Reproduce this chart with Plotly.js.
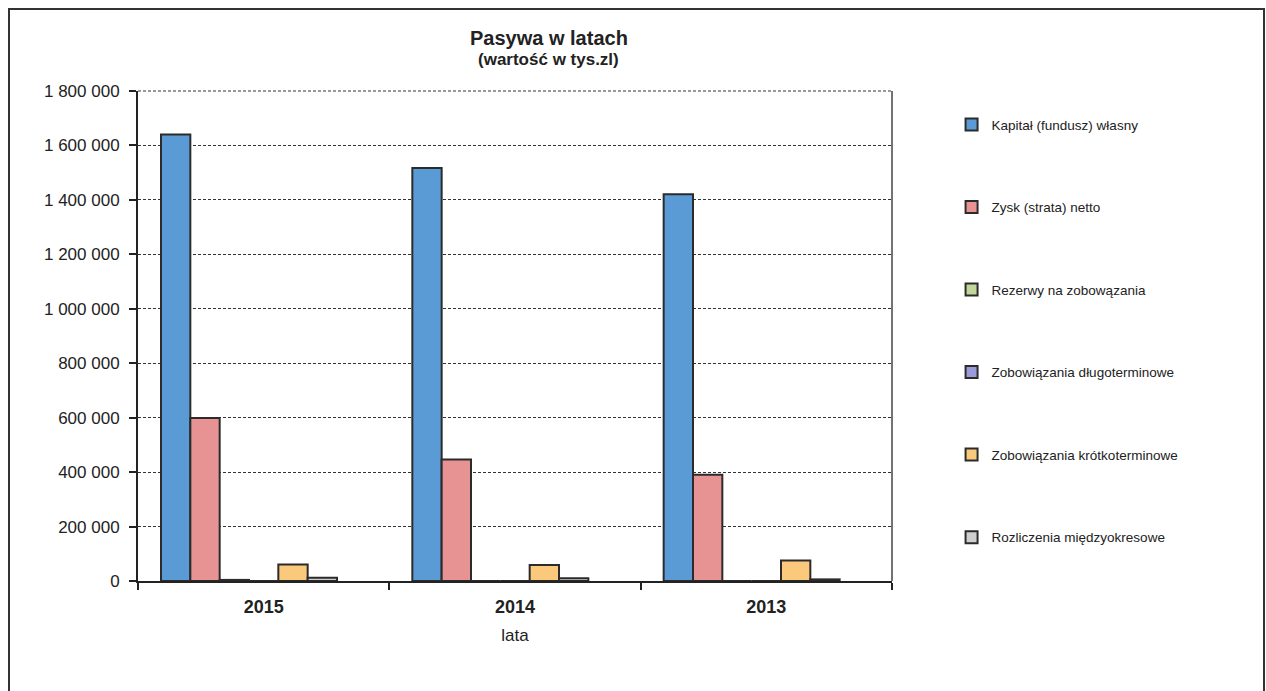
<!DOCTYPE html>
<html><head><meta charset="utf-8">
<script src="https://cdn.plot.ly/plotly-3.0.1.min.js"></script>
<style>html,body{margin:0;padding:0;background:#fff}#chart{width:1266px;height:691px}</style>
</head><body><div id="chart"></div>
<script>
const years = ['2015', '2014', '2013'];
const seriesNames = ['Kapitał (fundusz) własny', 'Zysk (strata) netto', 'Rezerwy na zobowązania', 'Zobowiązania długoterminowe', 'Zobowiązania krótkoterminowe', 'Rozliczenia międzyokresowe'];
const kapital = [1640000, 1517000, 1421000];
const zysk = [599000, 446000, 390000];
const rezerwy = [4000, 0, 0];
const zobDlugo = [0, 0, 0];
const zobKrotko = [61000, 59000, 75000];
const rozliczenia = [12000, 10000, 6000];
const pustaSeria = [0, 0, 0]; // empty 7th slot kept by the original chart
const seriesValues = [kapital, zysk, rezerwy, zobDlugo, zobKrotko, rozliczenia];
const colors = ['#5b9bd5', '#e89393', '#c4d79b', '#9b9bdc', '#fbc97c', '#cfcfcf'];
const yTicks = [0, 200000, 400000, 600000, 800000, 1000000, 1200000, 1400000, 1600000, 1800000];

const traces = seriesNames.map((n, i) => ({
  type: 'bar', name: n, x: years, y: seriesValues[i], legendgroup: 'g' + i,
  marker: {color: colors[i], line: {color: '#2b2b2b', width: 2}},
  hoverinfo: 'x+y+name'
}));
traces.push({type: 'bar', name: '', x: years, y: pustaSeria, showlegend: false,
  marker: {color: 'rgba(0,0,0,0)', line: {width: 0}}, hoverinfo: 'skip'});

const layout = {
  width: 1266, height: 691,
  margin: {l: 138, r: 374, t: 91, b: 110},
  paper_bgcolor: '#fff', plot_bgcolor: '#fff',
  separators: ', ',
  font: {family: 'Liberation Sans, Arial, sans-serif', color: '#222', size: 14},
  barmode: 'group', bargap: 0.183, bargroupgap: 0,
  title: {text: '<b>Pasywa w latach</b>',
          x: 0.545, xref: 'paper', xanchor: 'center', y: 1 - 38/691, yref: 'container', yanchor: 'middle',
          font: {size: 20, color: '#222'}},
  annotations: [
    {text: '<b>(wartość w tys.zl)</b>', xref: 'paper', yref: 'paper', x: 0.545, y: (581 - 60) / 490,
     xanchor: 'center', yanchor: 'middle', showarrow: false, font: {size: 17, color: '#222'}}
  ],
  xaxis: {
    type: 'category', tickson: 'boundaries', ticks: 'outside', ticklen: 7, tickcolor: '#222', tickwidth: 2,
    ticklabelstandoff: 8,
    showline: true, linecolor: '#222', linewidth: 2, mirror: false,
    tickfont: {size: 18, color: '#222', family: 'Liberation Sans, Arial, sans-serif'},
    tickprefix: '<b>', ticksuffix: '</b>',
    title: {text: 'lata', font: {size: 17, color: '#222'}, standoff: 14}
  },
  yaxis: {
    range: [0, 1800000], tickvals: yTicks, tickformat: ',d',
    ticks: 'outside', ticklen: 7, tickcolor: '#222', tickwidth: 2,
    ticklabelstandoff: 6,
    showline: true, linecolor: '#222', linewidth: 2,
    showgrid: true, gridcolor: '#333', gridwidth: 1, griddash: '3px,2px',
    zeroline: false,
    tickfont: {size: 17, color: '#222'}
  },
  showlegend: true,
  legend: {x: 1.079, xanchor: 'left', y: 0.963, yanchor: 'top', tracegroupgap: 62, itemwidth: 30,
           font: {size: 13.5, color: '#222'}, bgcolor: 'rgba(0,0,0,0)', itemclick: false},
  shapes: [
    {type: 'line', xref: 'paper', yref: 'paper', x0: 1, x1: 1, y0: 0, y1: 1, line: {color: '#444', width: 1.5}},
    {type: 'line', xref: 'paper', yref: 'paper', x0: 0, x1: 1, y0: 1, y1: 1, line: {color: '#333', width: 1, dash: '3px,2px'}}
  ]
};

Plotly.newPlot('chart', traces, layout, {displayModeBar: false, staticPlot: true}).then(() => {
  const svg = document.querySelector('#chart .main-svg');
  const ns = 'http://www.w3.org/2000/svg';
  const r = document.createElementNS(ns, 'rect');
  r.setAttribute('x', 9); r.setAttribute('y', 9);
  r.setAttribute('width', 1255); r.setAttribute('height', 700);
  r.setAttribute('fill', 'none'); r.setAttribute('stroke', '#333'); r.setAttribute('stroke-width', 2);
  svg.appendChild(r);
});
</script>
</body></html>
